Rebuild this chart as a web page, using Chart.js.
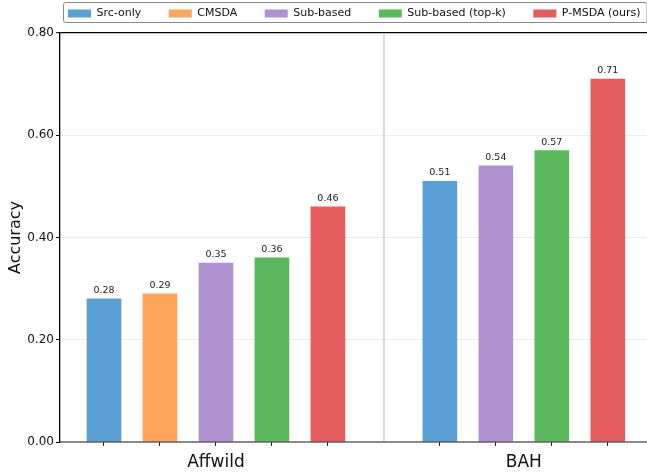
<!DOCTYPE html>
<html>
<head>
<meta charset="utf-8">
<script src="https://cdn.jsdelivr.net/npm/chart.js@4.4.1/dist/chart.umd.min.js"></script>
<style>
  html, body { margin: 0; padding: 0; background: #fff; }
  #wrap { width: 647px; height: 476px; }
</style>
</head>
<body>
<div id="wrap"><canvas id="myChart" width="647" height="476"></canvas></div>
<script>
// data
const methods = ['Src-only', 'CMSDA', 'Sub-based', 'Sub-based (top-k)', 'P-MSDA (ours)']
const groups = ['Affwild', 'BAH']
const affwildAcc = [0.28, 0.29, 0.35, 0.36, 0.46]
const bahAcc = [0.51, null, 0.54, 0.57, 0.71]   // no CMSDA result on BAH
const yTicks = [0, 0.2, 0.4, 0.6, 0.8]

const colors = ['#5b9fd4', '#fea55b', '#b291d1', '#5cb85d', '#e55c5e']
const font = 'DejaVu Sans'

// lay the bars out slot by slot, one empty slot between groups
const groupValues = [affwildAcc, bahAcc]
const points = methods.map(() => [])
const barSlots = []
const groupCenters = []
const dividers = []
let slot = 0
groupValues.forEach((vals, g) => {
    const first = slot
    vals.forEach((v, i) => {
        if (v === null) return
        points[i].push({ x: slot, y: v })
        barSlots.push(slot)
        slot++
    })
    groupCenters.push((first + slot - 1) / 2)
    if (g < groupValues.length - 1) { dividers.push(slot); slot++ }
})

const datasets = methods.map((m, i) => ({
    label: m,
    data: points[i],
    backgroundColor: colors[i],
    borderWidth: 0,
    barThickness: 34,
    grouped: false
}))

const extras = {
    id: 'extras',
    beforeLayout(chart) {
        const lg = chart.legend
        if (lg && !lg._patched) {
            const fit = lg.fit
            lg.fit = function () { fit.call(this); this.height = 33 }
            lg._patched = true
        }
    },
    afterLayout(chart) {
        // matplotlib-style legend: starts near the axes' left edge, runs off to the right
        chart.legend.left = 40.5
        chart.legend.right = 760
        chart.legend.top = -19.5
    },
    beforeDatasetsDraw(chart) {
        const { ctx, chartArea, scales } = chart
        ctx.save()
        ctx.strokeStyle = '#d9d9d9'
        ctx.lineWidth = 2
        dividers.forEach(d => {
            const px = scales.x.getPixelForValue(d)
            ctx.beginPath()
            ctx.moveTo(px, chartArea.top)
            ctx.lineTo(px, chartArea.bottom)
            ctx.stroke()
        })
        ctx.restore()
    },
    afterDatasetsDraw(chart) {
        const { ctx, chartArea } = chart
        ctx.save()
        ctx.font = '9.5px "' + font + '"'
        ctx.fillStyle = '#222'
        ctx.textAlign = 'center'
        ctx.textBaseline = 'alphabetic'
        chart.data.datasets.forEach((ds, i) => {
            chart.getDatasetMeta(i).data.forEach((bar, j) => {
                ctx.fillText(ds.data[j].y.toFixed(2), bar.x, bar.y - 6)
            })
        })
        // baseline at zero, over the bars
        ctx.strokeStyle = 'rgba(70,70,70,0.85)'
        ctx.lineWidth = 1.5
        ctx.beginPath()
        ctx.moveTo(chartArea.left, chartArea.bottom)
        ctx.lineTo(chartArea.right, chartArea.bottom)
        ctx.stroke()
        ctx.restore()
    },
    afterDraw(chart) {
        const boxes = chart.legend.legendHitBoxes
        if (!boxes || !boxes.length) return
        const ctx = chart.ctx
        const l = 63
        const r = boxes[boxes.length - 1].left + boxes[boxes.length - 1].width + 6
        ctx.save()
        ctx.strokeStyle = '#8a8a8a'
        ctx.lineWidth = 1
        ctx.beginPath()
        ctx.roundRect(l + 0.5, 2.5, r - l, 20, 2)
        ctx.stroke()
        ctx.restore()
    }
}

let ctx = document.getElementById('myChart').getContext('2d')
let myChart = new Chart(ctx, {
    type: 'bar',
    data: { datasets: datasets },
    plugins: [extras],
    options: {
        responsive: false,
        animation: false,
        layout: { padding: 0 },
        plugins: {
            tooltip: { enabled: false },
            legend: {
                position: 'top',
                align: 'start',
                labels: {
                    boxWidth: 23,
                    boxHeight: 8,
                    padding: 27.5,
                    color: '#111',
                    font: { family: font, size: 11 }
                }
            }
        },
        scales: {
            x: {
                type: 'linear',
                min: -0.786,
                max: 9.7,
                offset: false,
                afterBuildTicks: s => { s.ticks = barSlots.map(v => ({ value: v })) },
                afterFit: s => { s.height = 6 },
                ticks: { autoSkip: false, callback: () => '', padding: 0 },
                grid: { offset: false, drawOnChartArea: false, tickLength: 4, tickColor: '#222', tickWidth: 1 },
                border: { display: false }
            },
            groups: {
                type: 'linear',
                position: 'bottom',
                min: -0.786,
                max: 9.7,
                offset: false,
                afterBuildTicks: s => { s.ticks = groupCenters.map(v => ({ value: v })) },
                afterFit: s => { s.height = 28 },
                ticks: {
                    autoSkip: false,
                    maxRotation: 0,
                    padding: 4,
                    color: '#111',
                    font: { family: font, size: 17 },
                    callback: (v) => groups[groupCenters.indexOf(v)]
                },
                grid: { display: false, drawTicks: false },
                border: { display: false }
            },
            y: {
                min: 0,
                max: 0.8,
                afterBuildTicks: s => { s.ticks = yTicks.map(v => ({ value: v })) },
                afterFit: s => { s.width = 60 },
                ticks: {
                    padding: 2,
                    color: '#111',
                    font: { family: font, size: 12 },
                    callback: v => v.toFixed(2)
                },
                grid: {
                    color: c => c.tick.value === 0.8 ? '#000' : (c.tick.value === 0 ? 'rgba(0,0,0,0)' : '#ececec'),
                    lineWidth: c => c.tick.value === 0.8 ? 1.3 : 1,
                    tickLength: 4,
                    tickColor: '#000',
                    tickWidth: 1
                },
                border: { color: '#000', width: 1.3 },
                title: {
                    display: true,
                    text: 'Accuracy',
                    color: '#111',
                    font: { family: font, size: 16 },
                    padding: { top: 6, bottom: 0 }
                }
            }
        }
    }
})
</script>
</body>
</html>
